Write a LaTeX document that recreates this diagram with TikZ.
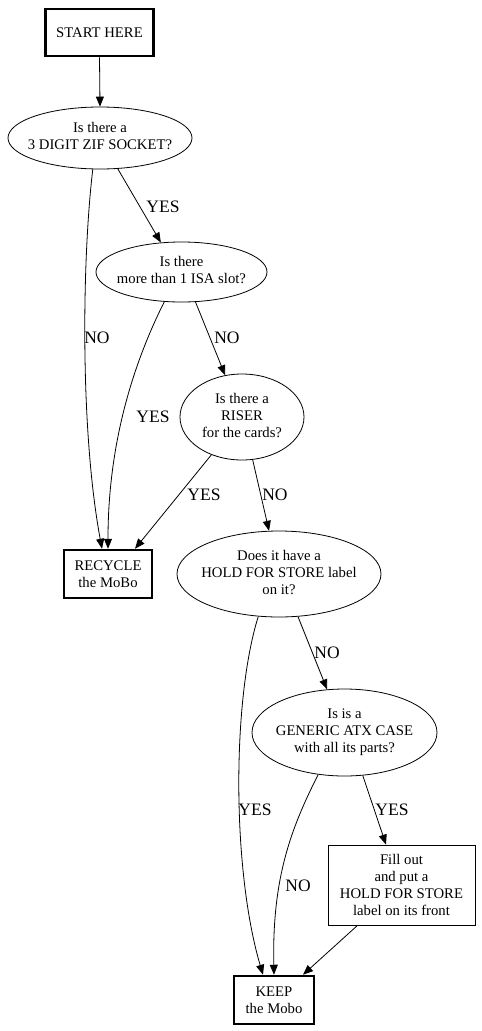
\documentclass[tikz,border=0pt]{standalone}
\usepackage{fontspec}
\setmainfont{Liberation Serif}
\usepackage{tikz}
\usetikzlibrary{shapes.geometric, arrows.meta, positioning, calc}

% keep ellipse size fixed by the given minimum size, not by its text
\newcommand{\qlines}[1]{\makebox[0pt]{\begin{tabular}{@{}c@{}}#1\end{tabular}}}

\tikzset{
    question/.style={ellipse, draw, line width=0.8pt, inner sep=0pt,
                     font=\fontsize{14.7}{17}\selectfont},
    stopbox/.style={rectangle, draw, line width=2.5pt, inner sep=0pt, align=center,
                    font=\fontsize{14.7}{17}\selectfont},
    actionbox/.style={rectangle, draw, line width=0.8pt, inner sep=0pt, align=center,
                      font=\fontsize{14.7}{17}\selectfont},
    answer/.style={font=\fontsize{17.5}{20}\selectfont, inner sep=0pt},
    flow/.style={line width=0.8pt, -{Triangle[length=10pt, width=8pt]}}
}

\begin{document}
\begin{tikzpicture}[x=1pt, y=-1pt]
    \useasboundingbox (0,0) rectangle (482,1031);

    % nodes
    \node[stopbox, minimum width=108, minimum height=47] (start) at (99.5,32.5) {START HERE};
    \node[question, minimum width=184, minimum height=62] (zif) at (100,138) {\qlines{Is there a\\3 DIGIT ZIF SOCKET?}};
    \node[question, minimum width=171, minimum height=60] (isa) at (181.5,272) {\qlines{Is there\\more than 1 ISA slot?}};
    \node[question, minimum width=124, minimum height=86] (riser) at (242,417) {\qlines{Is there a\\RISER\\for the cards?}};
    \node[stopbox, minimum width=88, minimum height=48] (recycle) at (108,574) {RECYCLE\\the MoBo};
    \node[question, minimum width=204, minimum height=86] (hold) at (279,574) {\qlines{Does it have a\\HOLD FOR STORE label\\on it?}};
    \node[question, minimum width=185, minimum height=87] (atx) at (344.5,732.5) {\qlines{Is is a\\GENERIC ATX CASE\\with all its parts?}};
    \node[actionbox, minimum width=147, minimum height=80] (fill) at (401.5,885) {Fill out\\and put a\\HOLD FOR STORE\\label on its front};
    \node[stopbox, minimum width=80, minimum height=48] (keep) at (274,1000) {KEEP\\the Mobo};

    % connectors
    \draw[flow] (start.south) -- (zif.north);
    \draw[flow] (zif.257) .. controls (82,260) and (80,430) .. ([xshift=-6pt]recycle.north);
    \draw[flow] (zif.300) -- (isa.125);
    \draw[flow] (isa.240) .. controls (130,370) and (108,450) .. (recycle.north);
    \draw[flow] (isa.295) -- (riser.112);
    \draw[flow] (riser.231) -- ([xshift=27pt]recycle.north);
    \draw[flow] (riser.284) -- (hold.103);
    \draw[flow] (hold.244) .. controls (232,700) and (232,870) .. ([xshift=-11pt]keep.north);
    \draw[flow] (hold.294) -- (atx.112);
    \draw[flow] (atx.238) .. controls (290,830) and (272,880) .. (keep.north);
    \draw[flow] (atx.293) -- ([xshift=-15.5pt]fill.north);
    \draw[flow] ([xshift=-44pt]fill.south) -- ([xshift=29pt]keep.north);

    % answers
    \node[answer] (zifyes) at (163,207) {YES};
    \node[answer] (zifno) at (97,338) {NO};
    \node[answer] (isayes) at (153,417) {YES};
    \node[answer] (isano) at (227,338) {NO};
    \node[answer] (riseryes) at (204,495) {YES};
    \node[answer] (riserno) at (275,495) {NO};
    \node[answer] (holdno) at (327,653) {NO};
    \node[answer] (holdyes) at (255,810) {YES};
    \node[answer] (atxyes) at (392,810) {YES};
    \node[answer] (atxno) at (298,886) {NO};
\end{tikzpicture}
\end{document}
